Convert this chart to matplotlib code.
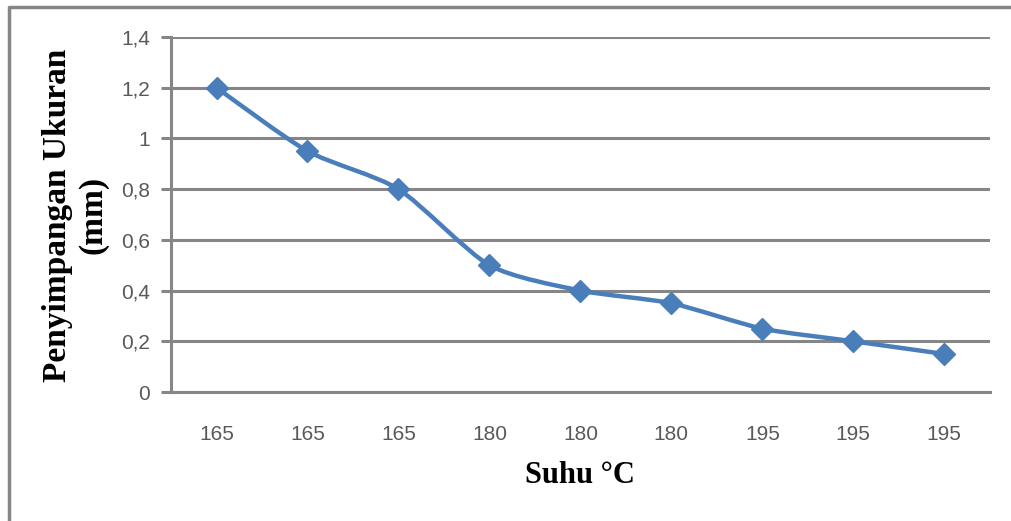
import matplotlib
matplotlib.use("Agg")
import matplotlib.pyplot as plt
from matplotlib.path import Path
from matplotlib.patches import PathPatch
from matplotlib.lines import Line2D

# data
suhu = ["165", "165", "165", "180", "180", "180", "195", "195", "195"]
penyimpangan = [1.2, 0.95, 0.8, 0.5, 0.4, 0.35, 0.25, 0.2, 0.15]
y_ticks = [0, 0.2, 0.4, 0.6, 0.8, 1.0, 1.2, 1.4]

line_color = "#4A7EBB"
grid_color = "#868686"
tick_color = "#595959"


def smooth_path(xs, ys, tension=0.12):
    # excel-like smoothed line: bezier segments with catmull-rom handles
    verts = [(xs[0], ys[0])]
    codes = [Path.MOVETO]
    n = len(xs)
    for i in range(n - 1):
        x0, y0 = xs[max(i - 1, 0)], ys[max(i - 1, 0)]
        x1, y1 = xs[i], ys[i]
        x2, y2 = xs[i + 1], ys[i + 1]
        x3, y3 = xs[min(i + 2, n - 1)], ys[min(i + 2, n - 1)]
        c1 = (x1 + (x2 - x0) * tension, y1 + (y2 - y0) * tension)
        c2 = (x2 - (x3 - x1) * tension, y2 - (y3 - y1) * tension)
        verts += [c1, c2, (x2, y2)]
        codes += [Path.CURVE4, Path.CURVE4, Path.CURVE4]
    return Path(verts, codes)


fig = plt.figure(figsize=(10.12, 5.21), dpi=100)
ax = fig.add_axes([0.169, 0.2476, 0.809, 0.6814])

x = list(range(len(suhu)))
ax.add_patch(PathPatch(smooth_path(x, penyimpangan), facecolor="none",
                       edgecolor=line_color, linewidth=3.2, zorder=3,
                       capstyle="round", joinstyle="round"))
ax.plot(x, penyimpangan, linestyle="none", marker="D", markersize=11,
        color=line_color, zorder=4)

ax.set_xlim(-0.5, len(suhu) - 0.5)
ax.set_ylim(0, 1.4)
ax.set_xticks(x)
ax.set_xticklabels(suhu)
ax.set_yticks(y_ticks)
ax.set_yticklabels([f"{v:g}".replace(".", ",") for v in y_ticks])

ax.grid(axis="y", color=grid_color, linewidth=2.2)
ax.set_axisbelow(True)
for side in ["top", "right"]:
    ax.spines[side].set_visible(False)
for side in ["left", "bottom"]:
    ax.spines[side].set_color(grid_color)
    ax.spines[side].set_linewidth(2.2)

ax.tick_params(axis="y", length=7, width=2.2, color=grid_color,
               labelcolor=tick_color, labelsize=15, pad=8)
ax.tick_params(axis="x", length=0, labelcolor=tick_color, labelsize=15, pad=24)
for lab in ax.get_xticklabels() + ax.get_yticklabels():
    lab.set_family("Liberation Sans")

ax.set_xlabel("Suhu °C", family="Liberation Serif", fontweight="bold",
              fontsize=22, labelpad=12)
fig.text(0.0746, 0.587, "Penyimpangan Ukuran\n(mm)", rotation=90,
         ha="center", va="center", multialignment="center",
         family="Liberation Serif", fontweight="bold", fontsize=24,
         linespacing=1.18)

# outer chart frame (bottom and right edges are cut off in the picture)
fig.add_artist(Line2D([9 / 1012, 9 / 1012, 1.0], [0.0, 1 - 7 / 521, 1 - 7 / 521],
                      transform=fig.transFigure, color=grid_color, linewidth=2.5))

fig.savefig("out.png", dpi=100)
